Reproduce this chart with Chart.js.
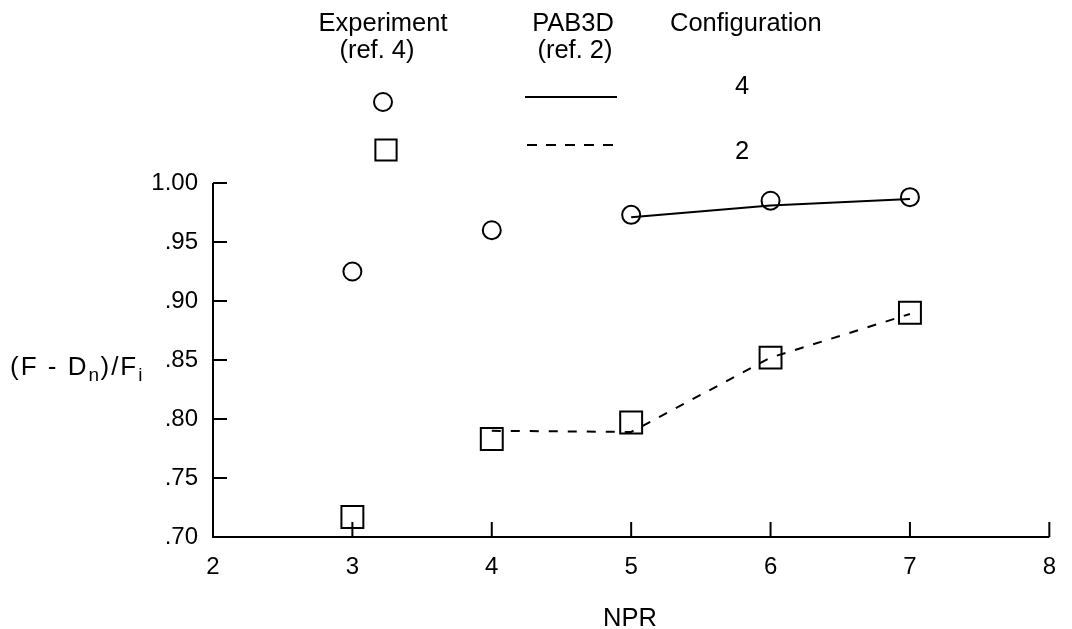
<!DOCTYPE html>
<html><head><meta charset="utf-8">
<script src="https://cdn.jsdelivr.net/npm/chart.js@4.4.1/dist/chart.umd.min.js"></script>
<style>html,body{margin:0;padding:0;background:#fff;}#wrap{width:1072px;height:629px;position:relative;}</style>
</head><body><div id="wrap"><canvas id="c" width="1072" height="629"></canvas></div>
<script>
// ---- data ----
const nprExp = [3, 4, 5, 6, 7];
const expConfig4 = [0.925, 0.960, 0.973, 0.985, 0.988];
const expConfig2 = [0.717, 0.783, 0.797, 0.852, 0.890];
const nprPab4 = [5, 6, 7];
const pabConfig4 = [0.971, 0.981, 0.9865];
const nprPab2 = [4, 5, 6, 7];
const pabConfig2 = [0.790, 0.789, 0.852, 0.889];
const xTickValues = [2, 3, 4, 5, 6, 7, 8];
const xTickLabels = ['2', '3', '4', '5', '6', '7', '8'];
const yTickValues = [0.70, 0.75, 0.80, 0.85, 0.90, 0.95, 1.00];
const yTickLabels = ['.70', '.75', '.80', '.85', '.90', '.95', '1.00'];

const FONT = 'Liberation Sans, Arial, Helvetica, sans-serif';
const FS = 24;
const LFS = 25.5;
const pts = (xs, ys) => xs.map((x, i) => ({x: x, y: ys[i]}));

const axesPlugin = {
  id: 'axesPlugin',
  afterDatasetsDraw(chart) {
    const ctx = chart.ctx, xs = chart.scales.x, ys = chart.scales.y;
    ctx.save();
    ctx.strokeStyle = '#000';
    ctx.lineWidth = 2;
    ctx.lineCap = 'butt';
    ctx.beginPath();
    ctx.moveTo(xs.left, ys.top);
    ctx.lineTo(xs.left, ys.bottom);
    ctx.lineTo(xs.right, ys.bottom);
    ctx.stroke();
    yTickValues.forEach(v => {
      const py = ys.getPixelForValue(v);
      ctx.beginPath(); ctx.moveTo(xs.left, py); ctx.lineTo(xs.left + 14, py); ctx.stroke();
    });
    xTickValues.forEach(v => {
      if (v === xTickValues[0]) return;
      const px = xs.getPixelForValue(v);
      ctx.beginPath(); ctx.moveTo(px, ys.bottom); ctx.lineTo(px, ys.bottom - 15); ctx.stroke();
    });
    ctx.restore();
  },
  afterDraw(chart) {
    const ctx = chart.ctx;
    ctx.save();
    ctx.fillStyle = '#000';
    ctx.font = LFS + 'px ' + FONT;
    ctx.textAlign = 'center';
    ctx.textBaseline = 'middle';
    ctx.fillText('Experiment', 383, 24);
    ctx.fillText('(ref. 4)', 377, 51);
    ctx.fillText('PAB3D', 573, 24);
    ctx.fillText('(ref. 2)', 575, 51);
    ctx.textAlign = 'left';
    ctx.fillText('Configuration', 670, 24);
    ctx.textAlign = 'center';
    ctx.fillText('4', 742, 87);
    ctx.fillText('2', 742, 152);
    ctx.fillText('NPR', 630, 619);
    // legend markers (outline only)
    ctx.strokeStyle = '#000';
    ctx.lineWidth = 2;
    ctx.fillStyle = 'rgba(0,0,0,0)';
    Chart.helpers.drawPoint(ctx, {pointStyle: 'circle', radius: 9, rotation: 0, borderWidth: 2}, 383, 102);
    Chart.helpers.drawPoint(ctx, {pointStyle: 'rect', radius: 15, rotation: 0, borderWidth: 2}, 386, 150);
    ctx.beginPath(); ctx.moveTo(525, 97); ctx.lineTo(617, 97); ctx.stroke();
    ctx.setLineDash([10, 9]);
    ctx.beginPath(); ctx.moveTo(527, 145); ctx.lineTo(620, 145); ctx.stroke();
    ctx.setLineDash([]);
    // y axis title with subscripts
    ctx.fillStyle = '#000';
    ctx.textAlign = 'left';
    ctx.textBaseline = 'alphabetic';
    let x = 10; const base = 375;
    const part = (t, size, dy, sp) => {
      ctx.font = size + 'px ' + FONT;
      for (const ch of t) { ctx.fillText(ch, x, base + dy); x += ctx.measureText(ch).width + sp; }
    };
    part('(F - D', 26, 0, 2);
    part('n', 19, 6, 1.5);
    part(')/F', 26, 0, 2);
    part('i', 19, 6, 0);
    ctx.restore();
  }
};

new Chart(document.getElementById('c'), {
  type: 'scatter',
  data: {
    datasets: [
      {label: 'PAB3D config 4', data: pts(nprPab4, pabConfig4), showLine: true, pointRadius: 0, borderColor: '#000', borderWidth: 2, fill: false},
      {label: 'PAB3D config 2', data: pts(nprPab2, pabConfig2), showLine: true, pointRadius: 0, borderColor: '#000', borderWidth: 2, borderDash: [9, 10], fill: false},
      {label: 'Experiment config 4', data: pts(nprExp, expConfig4), showLine: false, pointStyle: 'circle', pointRadius: 9, pointBorderWidth: 2, pointBorderColor: '#000', pointBackgroundColor: 'rgba(0,0,0,0)'},
      {label: 'Experiment config 2', data: pts(nprExp, expConfig2), showLine: false, pointStyle: 'rect', pointRadius: 15.5, pointBorderWidth: 2, pointBorderColor: '#000', pointBackgroundColor: 'rgba(0,0,0,0)'}
    ]
  },
  options: {
    responsive: false,
    animation: false,
    devicePixelRatio: 1,
    clip: false,
    layout: {padding: {left: 0, top: 183, right: 14, bottom: 0}},
    plugins: {legend: {display: false}, tooltip: {enabled: false}},
    scales: {
      x: {
        type: 'linear', min: 2, max: 8,
        afterBuildTicks: s => { s.ticks = xTickValues.map(v => ({value: v})); },
        afterFit: s => { s.height = 92; },
        grid: {display: false, drawTicks: false},
        border: {display: false},
        ticks: {callback: (v, i) => xTickLabels[i], color: '#000', font: {family: FONT, size: FS}, padding: 16, maxRotation: 0, autoSkip: false}
      },
      y: {
        type: 'linear', min: 0.70, max: 1.00,
        afterBuildTicks: s => { s.ticks = yTickValues.map(v => ({value: v})); },
        afterFit: s => { s.width = 213; },
        grid: {display: false, drawTicks: false},
        border: {display: false},
        ticks: {callback: (v, i) => yTickLabels[i], color: '#000', font: {family: FONT, size: FS}, padding: 15, autoSkip: false}
      }
    }
  },
  plugins: [axesPlugin]
});
</script>
</body></html>
